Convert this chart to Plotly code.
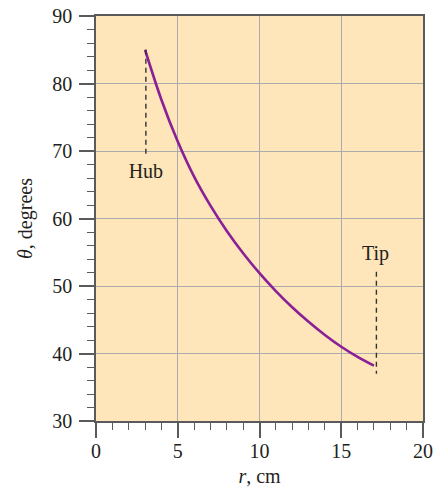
import plotly.graph_objects as go

# Data
r_cm = [3, 4, 5, 6, 7, 8, 9, 10, 11, 12, 13, 14, 15, 16, 17]
theta_deg = [85, 77.6, 71.4, 66.2, 61.9, 58.15, 54.85, 51.9, 49.25, 46.85, 44.7, 42.75, 41.0, 39.5, 38.2]

hub_r = [3.05, 3.05]
hub_theta = [85, 69.5]
tip_r = [17.15, 17.15]
tip_theta = [52.1, 37.0]

labels = ["Hub", "Tip"]
label_r = [3.05, 17.1]
label_theta = [66.8, 54.6]

x_ticks = [0, 5, 10, 15, 20]
y_ticks = [30, 40, 50, 60, 70, 80, 90]

FONT = "Liberation Serif, Times New Roman, serif"
TXT = "#231f20"
AX = "#5a5a5a"
GRID = "#ababab"

fig = go.Figure()
fig.add_trace(go.Scatter(x=r_cm, y=theta_deg, mode="lines",
                         line=dict(color="#8a1f96", width=2.6, shape="spline"),
                         showlegend=False, hoverinfo="skip"))
for xs, ys in [(hub_r, hub_theta), (tip_r, tip_theta)]:
    fig.add_trace(go.Scatter(x=xs, y=ys, mode="lines",
                             line=dict(color="#333333", width=1.4, dash="5px,4px"),
                             showlegend=False, hoverinfo="skip"))
fig.add_trace(go.Scatter(x=label_r, y=label_theta, mode="text", text=labels,
                         textfont=dict(family=FONT, size=20, color=TXT),
                         textposition="middle center", showlegend=False, hoverinfo="skip"))

axis_common = dict(showline=True, linecolor=AX, linewidth=1.5, mirror=True,
                   showgrid=True, gridcolor=GRID, gridwidth=1.3,
                   ticks="outside", ticklen=15, tickwidth=1.5, tickcolor=AX,
                   tickfont=dict(family=FONT, size=20, color=TXT),
                   zeroline=False, automargin=False)

fig.update_xaxes(range=[0, 20], tickvals=x_ticks, **axis_common, ticklabelstandoff=-4,
                 minor=dict(dtick=1, ticks="outside", ticklen=7, tickwidth=1.3,
                            tickcolor=AX, showgrid=False),
                 title=dict(text="<i>r</i>, cm", font=dict(family=FONT, size=20, color=TXT),
                            standoff=8))
fig.update_yaxes(range=[30, 90], tickvals=y_ticks, **axis_common, ticklabelstandoff=3,
                 minor=dict(dtick=2, ticks="outside", ticklen=7, tickwidth=1.3,
                            tickcolor=AX, showgrid=False),
                 title=dict(text="<i>θ</i>, degrees", font=dict(family=FONT, size=20, color=TXT),
                            standoff=14))

fig.update_layout(width=447, height=490,
                  margin=dict(l=96, r=24, t=16, b=69, pad=0),
                  plot_bgcolor="#fee5ba", paper_bgcolor="white")

# remove the default 8px page margin so the figure fills the window exactly
fig.write_html("out.html", config={"displayModeBar": False},
               post_script="document.body.style.margin='0';")
